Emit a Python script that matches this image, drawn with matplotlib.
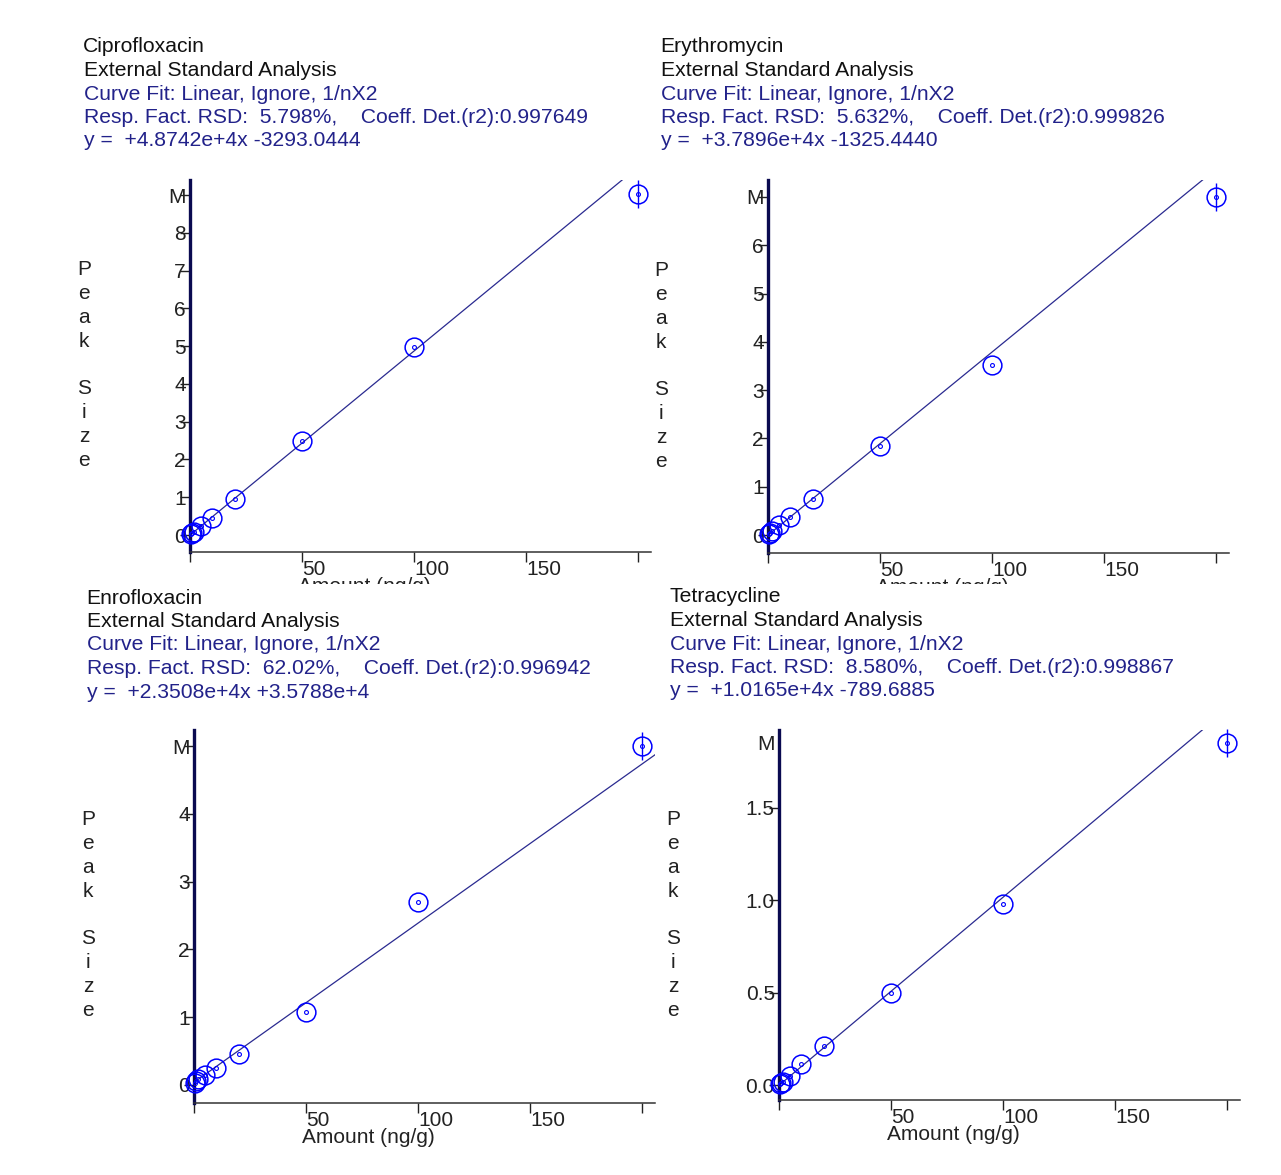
import matplotlib.pyplot as plt
from matplotlib.patches import Rectangle
import numpy as np

plt.rcParams['font.family'] = ['Liberation Sans', 'DejaVu Sans']

# datos de calibracion (Peak Size en millones)
amount = [0.5, 1, 2, 5, 10, 20, 50, 100, 200]

compuestos = ["Ciprofloxacin", "Erythromycin", "Enrofloxacin", "Tetracycline"]
rsd = ["5.798%", "5.632%", "62.02%", "8.580%"]
r2 = ["0.997649", "0.999826", "0.996942", "0.998867"]
ecuacion = ["+4.8742e+4x -3293.0444", "+3.7896e+4x -1325.4440",
            "+2.3508e+4x +3.5788e+4", "+1.0165e+4x -789.6885"]
pendiente = [4.8742e4, 3.7896e4, 2.3508e4, 1.0165e4]
intercepto = [-3293.0444, -1325.4440, 3.5788e4, -789.6885]

cipro = [0.02, 0.045, 0.09, 0.24, 0.46, 0.96, 2.49, 4.98, 9.03]
eritro = [0.02, 0.04, 0.08, 0.20, 0.37, 0.74, 1.84, 3.53, 7.0]
enro = [0.03, 0.05, 0.08, 0.15, 0.25, 0.46, 1.08, 2.70, 5.0]
tetra = [0.005, 0.01, 0.02, 0.05, 0.113, 0.21, 0.50, 0.977, 1.85]
picos = [cipro, eritro, enro, tetra]

yticks = [[0, 1, 2, 3, 4, 5, 6, 7, 8, 9],
          [0, 1, 2, 3, 4, 5, 6, 7],
          [0, 1, 2, 3, 4, 5],
          [0.0, 0.5, 1.0, 1.5, 1.85]]
ylabels = [["0", "1", "2", "3", "4", "5", "6", "7", "8", "M"],
           ["0", "1", "2", "3", "4", "5", "6", "M"],
           ["0", "1", "2", "3", "4", "M"],
           ["0.0", "0.5", "1.0", "1.5", "M"]]
ylims = [(-0.45, 9.4), (-0.37, 7.35), (-0.27, 5.24), (-0.08, 1.92)]
xticks = [0, 50, 100, 150, 200]
xlabels = ["", "50", "100", "150", ""]

W, H = 1281, 1175
# posicion de ejes en pixeles: izquierda, arriba, abajo
cajas = [(190, 180, 552), (768, 180, 553), (194, 730, 1103), (779, 730, 1100)]
titulos_pos = [(83, 47), (660, 47), (86, 598), (669, 597)]
etiqueta_pos = [(84, 365), (661, 366), (88, 915), (673, 915)]
x_max = 206

fig = plt.figure(figsize=(W / 100, H / 100), dpi=100)

azul = "#0000ff"
marino = "#22228a"
fs_tit = 15.2
fs_tick = 15

for i in range(4):
    izq, arr, aba = cajas[i]
    ancho = x_max * 2.24
    ax = fig.add_axes([izq / W, 1 - aba / H, ancho / W, (aba - arr) / H])
    ax.set_xlim(0, x_max)
    ax.set_ylim(*ylims[i])

    # linea de ajuste
    xs = np.linspace(0, x_max, 50)
    ax.plot(xs, (pendiente[i] * xs + intercepto[i]) / 1e6, color="#2a2a90", lw=0.9)

    # puntos
    ax.plot(amount, picos[i], 'o', ms=13.5, mfc='none', mec=azul, mew=1.1, clip_on=False, zorder=3)
    ax.plot(amount, picos[i], 'o', ms=2.8, mfc='none', mec=azul, mew=0.8, clip_on=False, zorder=3)
    ax.plot(amount[-1], picos[i][-1], '|', ms=20, mec=azul, mew=1.0, clip_on=False, zorder=3)

    for lado in ["top", "right"]:
        ax.spines[lado].set_visible(False)
    ax.spines["left"].set_color("#0a0a50")
    ax.spines["left"].set_linewidth(2.4)
    ax.spines["bottom"].set_color("#333333")
    ax.spines["bottom"].set_linewidth(1.1)

    ax.set_yticks(yticks[i])
    ax.set_yticklabels(ylabels[i])
    ax.set_xticks(xticks)
    ax.set_xticklabels(xlabels)
    ax.tick_params(axis='y', direction='out', length=7, width=1, pad=-4, labelsize=fs_tick, colors="#222222")
    ax.tick_params(axis='x', direction='out', length=7, width=1, pad=-1, labelsize=fs_tick, colors="#222222")
    for et in ax.get_xticklabels():
        et.set_horizontalalignment('left')
    if i == 3:
        ax.yaxis.get_major_ticks()[-1].tick1line.set_visible(False)

    ax.annotate("Amount (ng/g)", xy=(78, 0), xycoords=('data', 'axes fraction'),
                xytext=(0, -25), textcoords='offset points', ha='center', va='center',
                fontsize=fs_tick, color="#222222")

    # etiqueta vertical
    ex, ey = etiqueta_pos[i]
    fig.text(ex / W, 1 - ey / H, "P\ne\na\nk\n\nS\ni\nz\ne", ha='center', va='center',
             fontsize=fs_tick, linespacing=1.33, color="#222222", zorder=5)

    # bloque de texto
    tx, ty = titulos_pos[i]
    lineas = [compuestos[i], "External Standard Analysis", "Curve Fit: Linear, Ignore, 1/nX2",
              "Resp. Fact. RSD:  " + rsd[i] + ",    Coeff. Det.(r2):" + r2[i],
              "y =  " + ecuacion[i]]
    colores = ["#111111", "#111111", marino, marino, marino]
    for k in range(5):
        fig.text((tx + (0 if k == 0 else 1)) / W, 1 - (ty + k * 23.5) / H, lineas[k],
                 ha='left', va='center', fontsize=fs_tit, color=colores[k], zorder=5)

# tapa la parte baja de las etiquetas del eje x superior
fig.patches.append(Rectangle((0, 1 - 600 / H), 1, 16 / H, transform=fig.transFigure,
                             facecolor='white', edgecolor='none', zorder=2))

plt.savefig("out.png", dpi=100)
